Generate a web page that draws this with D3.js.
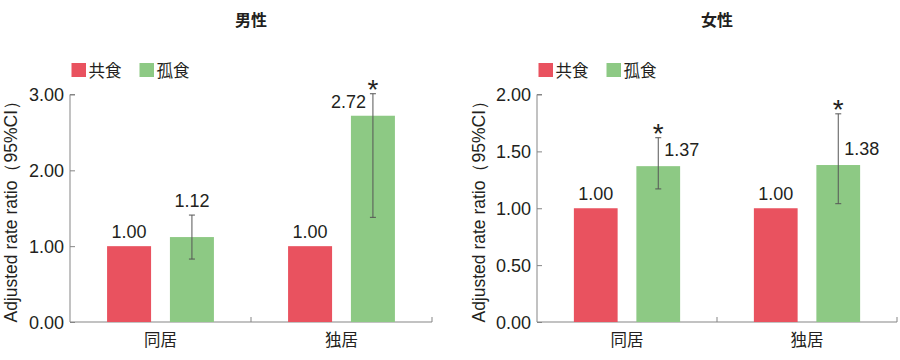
<!DOCTYPE html>
<html>
<head>
<meta charset="utf-8">
<script src="https://cdn.jsdelivr.net/npm/d3@7"></script>
<style>
  body { margin: 0; background: #fff; }
  svg text { fill: #231f20; }
</style>
</head>
<body>
<div id="container"></div>
<script>
const categories = ["同居", "独居"];
const seriesNames = ["共食", "孤食"];
const seriesColors = ["#e9525f", "#8dc984"];

const maleTogether = [1.00, 1.00];
const maleAlone = [1.12, 2.72];
const maleAloneLow = [0.83, 1.38];
const maleAloneHigh = [1.41, 3.01];
const maleSignificant = [false, true];
const maleTicks = [0, 1, 2, 3];

const femaleTogether = [1.00, 1.00];
const femaleAlone = [1.37, 1.38];
const femaleAloneLow = [1.17, 1.04];
const femaleAloneHigh = [1.62, 1.83];
const femaleSignificant = [true, true];
const femaleTicks = [0, 0.5, 1, 1.5, 2];

const width = 900, height = 360;
const numFont = "'Liberation Sans', Arial, sans-serif";
const jpFont = "'Noto Sans CJK JP', sans-serif";
const numSize = "18px ";

const svg = d3.select("#container").append("svg")
    .attr("width", width)
    .attr("height", height);

const panels = [
    { title: "男性", left: 70, right: 432, labelX: 10,
      together: maleTogether, alone: maleAlone, low: maleAloneLow, high: maleAloneHigh,
      sig: maleSignificant, ticks: maleTicks, labelSide: ["above", "left"] },
    { title: "女性", left: 537, right: 897, labelX: 478,
      together: femaleTogether, alone: femaleAlone, low: femaleAloneLow, high: femaleAloneHigh,
      sig: femaleSignificant, ticks: femaleTicks, labelSide: ["right", "right"] }
];

panels.forEach(p => {
    const g = svg.append("g");
    const top = 94.5, bottom = 322;

    const x0 = d3.scaleBand().domain(categories).range([p.left, p.right]);
    const x1 = d3.scaleBand().domain(seriesNames)
        .range([0, x0.bandwidth()])
        .paddingInner(0.3).paddingOuter(0.59);
    const y = d3.scaleLinear()
        .domain([0, d3.max(p.ticks)])
        .range([bottom, top]);

    // title
    g.append("text")
        .attr("x", x0.range()[0] + x0.bandwidth())
        .attr("y", 26)
        .attr("text-anchor", "middle")
        .style("font", "bold 16px " + jpFont)
        .text(p.title);

    // legend
    seriesNames.forEach((s, i) => {
        const lx = p.left + 1.5 + i * 68;
        g.append("rect")
            .attr("x", lx).attr("y", 63)
            .attr("width", 14.5).attr("height", 14)
            .attr("fill", seriesColors[i]);
        g.append("text")
            .attr("x", lx + 17).attr("y", 70)
            .attr("dominant-baseline", "central")
            .style("font", "16.5px " + jpFont)
            .text(s);
    });

    // y axis
    const yAxis = d3.axisRight(y)
        .tickValues(p.ticks)
        .tickSize(5)
        .tickFormat(d3.format(".2f"));
    const ya = g.append("g")
        .attr("transform", "translate(" + p.left + ",0)")
        .call(yAxis);
    ya.select(".domain").attr("stroke", "#858585").attr("d", "M5," + top + "H0V" + bottom);
    ya.selectAll(".tick line").attr("stroke", "#858585");
    ya.selectAll(".tick text")
        .attr("x", -6)
        .attr("dy", "0.36em")
        .attr("text-anchor", "end")
        .style("font", numSize + numFont)
        .attr("fill", "#231f20");

    // x axis
    const xa = g.append("g")
        .attr("transform", "translate(0," + bottom + ")")
        .call(d3.axisTop(x0).tickSize(0).tickFormat(""));
    xa.select(".domain").attr("stroke", "#858585").attr("d", "M" + p.left + ",0H" + p.right + "V-5");
    xa.selectAll(".tick").remove();
    xa.selectAll(".sep")
        .data(categories.slice(1))
        .join("line")
        .attr("x1", d => x0(d)).attr("x2", d => x0(d))
        .attr("y1", 0).attr("y2", -5)
        .attr("stroke", "#858585");

    g.selectAll(".cat")
        .data(categories)
        .join("text")
        .attr("x", d => x0(d) + x0.bandwidth() / 2)
        .attr("y", 346)
        .attr("text-anchor", "middle")
        .style("font", "16.5px " + jpFont)
        .text(d => d);

    // y axis label
    g.append("text")
        .attr("transform", "translate(" + (p.labelX + 6.5) + "," + ((top + bottom) / 2 - 1) + ")rotate(-90)")
        .attr("text-anchor", "middle")
        .style("font", "17.5px " + numFont)
        .text("Adjusted rate ratio（95%CI）");

    // bars
    categories.forEach((c, ci) => {
        const vals = [p.together[ci], p.alone[ci]];
        vals.forEach((v, si) => {
            const bx = x0(c) + x1(seriesNames[si]);
            g.append("rect")
                .attr("x", bx)
                .attr("y", y(v))
                .attr("width", x1.bandwidth())
                .attr("height", y(0) - y(v))
                .attr("fill", seriesColors[si]);
        });

        // error bar for 孤食
        const ex = x0(c) + x1(seriesNames[1]) + x1.bandwidth() / 2;
        const eg = g.append("g").attr("stroke", "#555").attr("stroke-width", 1);
        eg.append("line").attr("x1", ex).attr("x2", ex).attr("y1", y(p.high[ci])).attr("y2", y(p.low[ci]));
        eg.append("line").attr("x1", ex - 3).attr("x2", ex + 3).attr("y1", y(p.high[ci])).attr("y2", y(p.high[ci]));
        eg.append("line").attr("x1", ex - 3).attr("x2", ex + 3).attr("y1", y(p.low[ci])).attr("y2", y(p.low[ci]));

        // value label for 共食
        const rx = x0(c) + x1(seriesNames[0]) + x1.bandwidth() / 2;
        g.append("text")
            .attr("x", rx)
            .attr("y", y(p.together[ci]) - 8)
            .attr("text-anchor", "middle")
            .style("font", numSize + numFont)
            .text(d3.format(".2f")(p.together[ci]));

        // value label for 孤食
        const side = p.labelSide[ci];
        const lbl = g.append("text")
            .style("font", numSize + numFont)
            .text(d3.format(".2f")(p.alone[ci]));
        if (side === "above") {
            lbl.attr("x", ex).attr("y", y(p.high[ci]) - 8).attr("text-anchor", "middle");
        } else if (side === "left") {
            lbl.attr("x", ex - 7).attr("y", y(p.alone[ci]) - 8).attr("text-anchor", "end");
        } else {
            lbl.attr("x", ex + 6).attr("y", y(p.alone[ci]) - 10).attr("text-anchor", "start");
        }

        // significance mark
        if (p.sig[ci]) {
            g.append("text")
                .attr("x", ex)
                .attr("y", y(p.high[ci]) + 5)
                .attr("text-anchor", "middle")
                .style("font", "28px " + numFont)
                .text("*");
        }
    });
});
</script>
</body>
</html>
